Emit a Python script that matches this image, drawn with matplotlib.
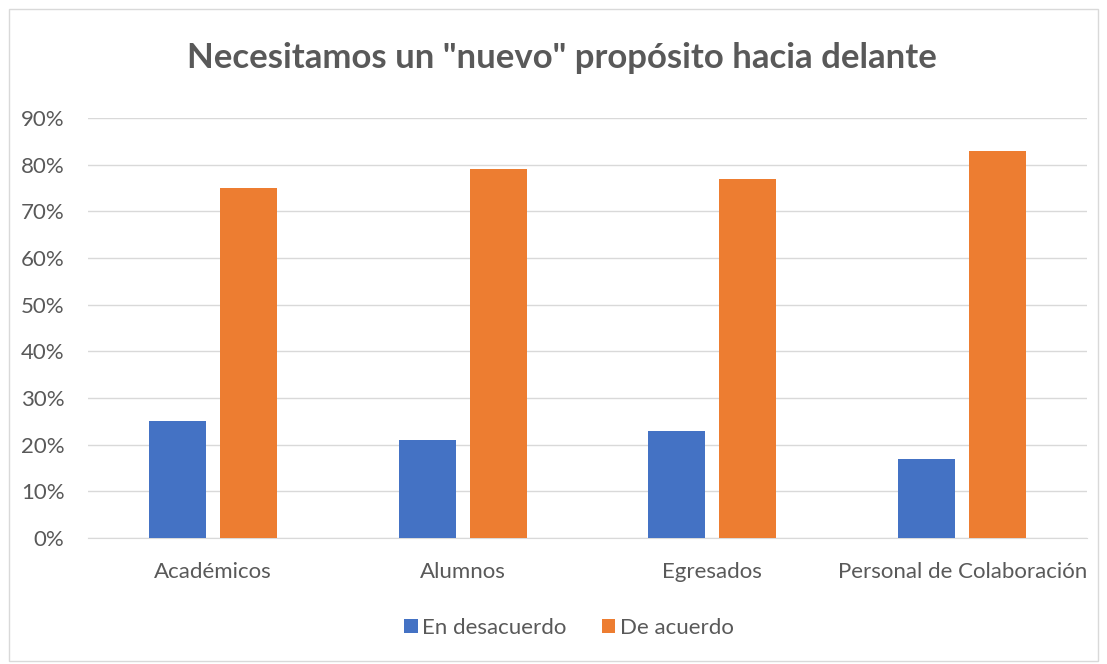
import numpy as np
import matplotlib.pyplot as plt
from matplotlib.patches import Rectangle
from matplotlib.ticker import PercentFormatter

categorias = ['Académicos', 'Alumnos', 'Egresados', 'Personal de Colaboración']
en_desacuerdo = [0.25, 0.21, 0.23, 0.17]
de_acuerdo = [0.75, 0.79, 0.77, 0.83]

azul = '#4472C4'
naranja = '#ED7D31'
gris = '#595959'

plt.rcParams['font.family'] = ['Lato', 'DejaVu Sans']

fig = plt.figure(figsize=(11.07, 6.64), dpi=100)
fig.patches.append(Rectangle((9/1107, 3/664), 1089/1107, 652/664, transform=fig.transFigure,
                             fill=False, edgecolor='#d9d9d9', linewidth=1))
ax = fig.add_axes([88/1107, 1 - 538/664, 999/1107, 420/664])

x = np.arange(len(categorias))
ancho = 0.228
ax.bar(x - 0.142, en_desacuerdo, ancho, color=azul, label='En desacuerdo', zorder=3)
ax.bar(x + 0.142, de_acuerdo, ancho, color=naranja, label='De acuerdo', zorder=3)

ax.set_xlim(-0.5, len(categorias) - 0.5)
ax.set_ylim(0, 0.9)
ax.set_yticks(np.arange(0, 0.91, 0.1))
ax.yaxis.set_major_formatter(PercentFormatter(1.0, decimals=0))
ax.grid(axis='y', color='#d9d9d9', linewidth=1, zorder=0)
ax.set_xticks(x)
ax.set_xticklabels(categorias)
ax.tick_params(axis='both', length=0, labelsize=16, labelcolor=gris)
ax.tick_params(axis='x', pad=17)
ax.tick_params(axis='y', pad=17)
for lado in ['top', 'right', 'left']:
    ax.spines[lado].set_visible(False)
ax.spines['bottom'].set_color('#d9d9d9')

fig.text(0.508, 1 - 58/664, 'Necesitamos un "nuevo" propósito hacia delante',
         ha='center', va='center', fontsize=25, fontweight='bold', color=gris)

fig.legend(loc='center', bbox_to_anchor=(0.514, 1 - 628/664), ncol=2, frameon=False,
           fontsize=16, labelcolor=gris, handlelength=0.6, handleheight=0.6,
           handletextpad=0.2, columnspacing=1.6)

fig.savefig('out.png', dpi=100)
